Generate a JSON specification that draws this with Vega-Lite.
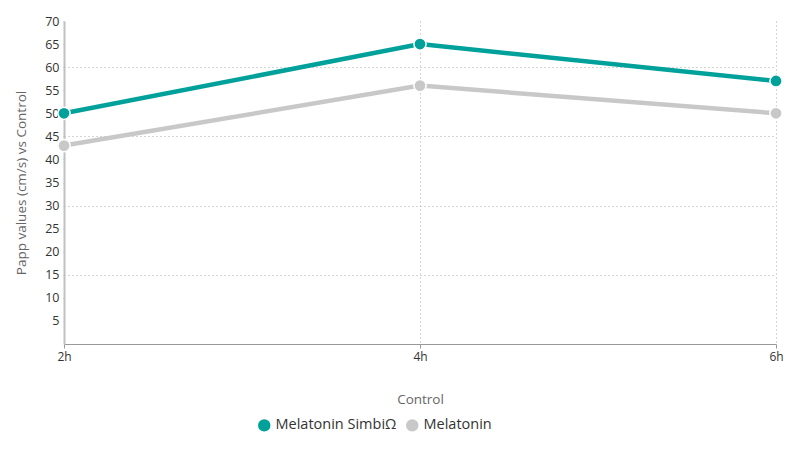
{
  "$schema": "https://vega.github.io/schema/vega-lite/v6.json",
  "width": 712,
  "height": 323,
  "autosize": "none",
  "padding": {"left": 64, "top": 21, "right": 24, "bottom": 106},
  "config": {
    "font": "Open Sans",
    "view": {"stroke": null},
    "axis": {"labelFont": "Open Sans", "titleFont": "Open Sans", "labelColor": "#333", "titleColor": "#666", "titleFontWeight": "normal"}
  },
  "data": {
    "values": [
      {"time": "2h", "series": "Melatonin SimbiΩ", "value": 50},
      {"time": "4h", "series": "Melatonin SimbiΩ", "value": 65},
      {"time": "6h", "series": "Melatonin SimbiΩ", "value": 57},
      {"time": "2h", "series": "Melatonin", "value": 43},
      {"time": "4h", "series": "Melatonin", "value": 56},
      {"time": "6h", "series": "Melatonin", "value": 50}
    ]
  },
  "mark": {"type": "line", "strokeWidth": 4.5, "point": {"filled": true, "size": 150, "stroke": "white", "strokeWidth": 1.5, "opacity": 1}},
  "encoding": {
    "x": {
      "field": "time", "type": "ordinal", "sort": ["2h", "4h", "6h"],
      "scale": {"type": "point", "padding": 0},
      "axis": {
        "title": "Control", "titleFontSize": 13.5, "titlePadding": 30,
        "labelAngle": 0, "labelFontSize": 12, "labelPadding": 3,
        "domainColor": "#999", "tickColor": "#999", "tickSize": 4,
        "grid": true, "gridDash": [1, 3], "gridColor": "#aaa",
        "gridOpacity": {"condition": {"test": "datum.value === '2h'", "value": 0}, "value": 1}
      }
    },
    "y": {
      "field": "value", "type": "quantitative",
      "scale": {"domain": [0, 70], "nice": false},
      "axis": {
        "title": "Papp values (cm/s) vs Control", "titleFontSize": 13.5, "titlePadding": 16,
        "values": [5, 10, 15, 20, 25, 30, 35, 40, 45, 50, 55, 60, 65, 70],
        "labelFontSize": 12.5, "labelPadding": 3,
        "domainColor": "#c0c0c0", "domainWidth": 2,
        "tickColor": "#bbb", "tickSize": 2, "tickDash": [1, 1],
        "grid": true, "gridDash": [1, 3], "gridColor": "#aaa",
        "gridOpacity": {"condition": {"test": "datum.value % 15 === 0 && datum.value < 70", "value": 1}, "value": 0}
      }
    },
    "color": {
      "field": "series", "type": "nominal", "sort": ["Melatonin SimbiΩ", "Melatonin"],
      "scale": {"domain": ["Melatonin SimbiΩ", "Melatonin"], "range": ["#00A19A", "#C8C8C8"]},
      "legend": {
        "title": null, "orient": "none", "direction": "horizontal",
        "legendX": 193, "legendY": 397,
        "symbolType": "circle", "symbolSize": 120, "labelFontSize": 14.5, "labelColor": "#333",
        "columnPadding": 6, "symbolOpacity": 1
      }
    }
  }
}
